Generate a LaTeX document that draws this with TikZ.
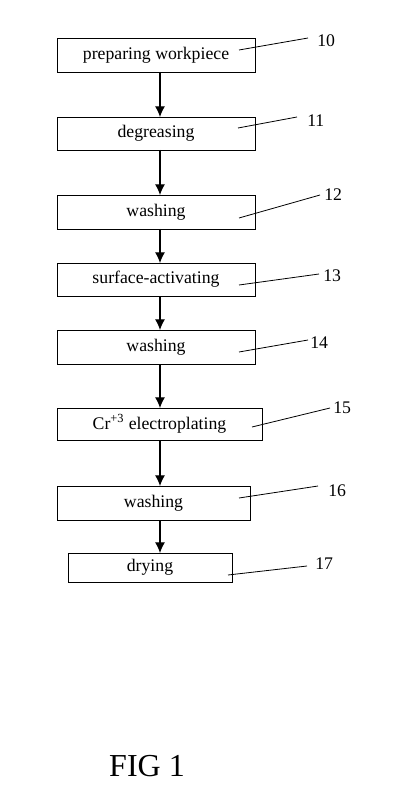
\documentclass[tikz,border=0pt]{standalone}
\usepackage{fontspec}
\setmainfont{Liberation Serif}
\usepackage{tikz}
\usetikzlibrary{positioning, calc, arrows.meta}
\tikzstyle{stage} = [rectangle, minimum width=148.5pt, minimum height=25.5pt, text centered, draw=black, line width=0.7pt, inner sep=0pt, outer sep=0pt, font=\fontsize{13.3}{15}\selectfont]
\tikzstyle{ref} = [inner sep=0pt, anchor=west, font=\fontsize{13.3}{15}\selectfont]
\tikzstyle{leader} = [line width=0.6pt]
\tikzstyle{arrow} = [line width=0.8pt, -{Latex[length=8pt, width=7.5pt]}]

\begin{document}
\begin{tikzpicture}[x=0.75pt, y=-0.75pt]
			\useasboundingbox (0,0) rectangle (400,791);
			\coordinate (spine) at (160,0);

			\node (prep) [stage, anchor=north west] at (57,38) {preparing workpiece};
			\node (degr) [stage, minimum height=24.75pt, below=33.75pt of prep.south west, anchor=north west] {degreasing};
			\node (wash1) [stage, below=33.75pt of degr.south west, anchor=north west] {washing};
			\node (act) [stage, minimum height=24.75pt, below=25.5pt of wash1.south west, anchor=north west] {surface-activating};
			\node (wash2) [stage, below=25.5pt of act.south west, anchor=north west] {washing};
			\node (plate) [stage, minimum width=153.75pt, minimum height=24pt, below=33pt of wash2.south west, anchor=north west] {Cr\textsuperscript{+3} electroplating};
			\node (wash3) [stage, minimum width=144.75pt, below=34.5pt of plate.south west, anchor=north west] {washing};
			\node (dry) [stage, minimum width=123pt, minimum height=21.75pt, below=24.75pt of wash3.south west, anchor=north west, xshift=8.25pt] {drying};

			\node (n10) [ref] at (317,41) {10};
			\node (n11) [ref] at (307,121) {11};
			\node (n12) [ref] at (324,195) {12};
			\node (n13) [ref] at (323,276) {13};
			\node (n14) [ref] at (310,343) {14};
			\node (n15) [ref] at (333,408) {15};
			\node (n16) [ref] at (328,491) {16};
			\node (n17) [ref] at (315,564) {17};

			\node (fig) [font=\fontsize{24}{28}\selectfont, inner sep=0pt] at (147,766) {FIG 1};

			\draw [arrow] (prep.south -| spine) -- (degr.north -| spine);
			\draw [arrow] (degr.south -| spine) -- (wash1.north -| spine);
			\draw [arrow] (wash1.south -| spine) -- (act.north -| spine);
			\draw [arrow] (act.south -| spine) -- (wash2.north -| spine);
			\draw [arrow] (wash2.south -| spine) -- (plate.north -| spine);
			\draw [arrow] (plate.south -| spine) -- (wash3.north -| spine);
			\draw [arrow] (wash3.south -| spine) -- (dry.north -| spine);

			\draw [leader] ($(prep.east)+(-16,-5)$) -- ($(n10.west)+(-9,-3)$);
			\draw [leader] ($(degr.east)+(-17,-5.5)$) -- ($(n11.west)+(-10,-4)$);
			\draw [leader] ($(wash1.east)+(-16,6)$) -- ($(n12.west)+(-4,0)$);
			\draw [leader] ($(act.east)+(-16,5.5)$) -- ($(n13.west)+(-4,-2)$);
			\draw [leader] ($(wash2.east)+(-16,5)$) -- ($(n14.west)+(-2,-3)$);
			\draw [leader] ($(plate.east)+(-10,3)$) -- ($(n15.west)+(-3,0)$);
			\draw [leader] ($(wash3.east)+(-11,-5)$) -- ($(n16.west)+(-10,-5)$);
			\draw [leader] ($(dry.east)+(-4,7.5)$) -- ($(n17.west)+(-8,2)$);
		\end{tikzpicture}
\end{document}
